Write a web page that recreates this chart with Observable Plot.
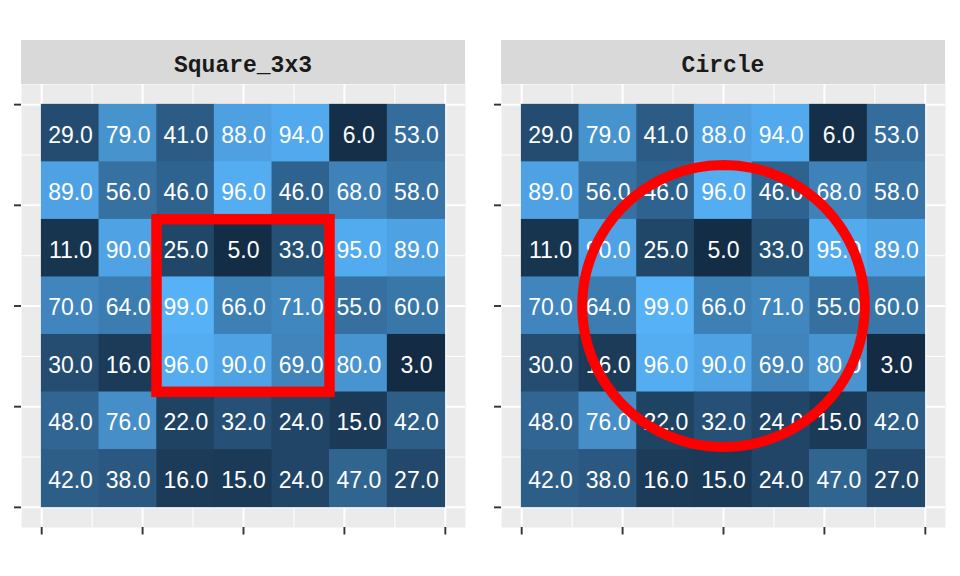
<!DOCTYPE html>
<html><head><meta charset="utf-8">
<script src="https://cdn.jsdelivr.net/npm/d3@7"></script>
<script src="https://cdn.jsdelivr.net/npm/@observablehq/plot@0.6"></script>
<style>
body{margin:0;background:#fff;}
#wrap{display:flex;width:960px;height:576px;overflow:hidden;}
.panel{width:480px;padding-top:40px;}
.strip{box-sizing:border-box;padding-top:7px;margin-left:21px;width:444px;height:44px;background:#D9D9D9;color:#1A1A1A;font:bold 23px "Liberation Mono","DejaVu Sans Mono",monospace;display:flex;align-items:center;justify-content:center;}
svg{display:block}
</style></head><body><div id="wrap"></div>
<script>
const panels = ["Square_3x3", "Circle"];
const gridValues = [
  [29, 79, 41, 88, 94, 6, 53],
  [89, 56, 46, 96, 46, 68, 58],
  [11, 90, 25, 5, 33, 95, 89],
  [70, 64, 99, 66, 71, 55, 60],
  [30, 16, 96, 90, 69, 80, 3],
  [48, 76, 22, 32, 24, 15, 42],
  [42, 38, 16, 15, 24, 47, 27]
];
const majorBreaks = [0, 0.25, 0.5, 0.75, 1];
const minorBreaks = [0.125, 0.375, 0.625, 0.875];
const squareCells = {col0: 2, col1: 5, row0: 2, row1: 5};
const circleShape = {cx: 0.5, cy: 0.5, r: 0.35};

const n = gridValues.length;
const cells = [];
gridValues.forEach((row, r) => row.forEach((v, c) => cells.push({r, c, v})));
const allVals = cells.map(d => d.v);

const circlePts = d3.range(0, 361, 2).map(a => {
  const t = a * Math.PI / 180;
  return {x: circleShape.cx + circleShape.r * Math.cos(t), y: circleShape.cy + circleShape.r * Math.sin(t)};
});

function makePanel(name) {
  const marks = [
    Plot.frame({fill: "#EBEBEB", stroke: "none"}),
    Plot.ruleX(minorBreaks, {stroke: "white", strokeWidth: 1}),
    Plot.ruleY(minorBreaks, {stroke: "white", strokeWidth: 1}),
    Plot.ruleX(majorBreaks, {stroke: "white", strokeWidth: 2}),
    Plot.ruleY(majorBreaks, {stroke: "white", strokeWidth: 2}),
    Plot.rect(cells, {
      x1: d => d.c / n, x2: d => (d.c + 1) / n,
      y1: d => 1 - (d.r + 1) / n, y2: d => 1 - d.r / n,
      fill: "v", inset: -0.3
    }),
    Plot.text(cells, {
      x: d => (d.c + 0.5) / n, y: d => 1 - (d.r + 0.5) / n,
      text: d => d.v.toFixed(1), fill: "white", fontSize: 23, dy: 2,
      fontFamily: "'Liberation Sans', Arial, sans-serif"
    }),
    Plot.axisX({ticks: majorBreaks, tickFormat: () => "", tickSize: 7.5, stroke: "#333333", strokeWidth: 1.9, label: null}),
    Plot.axisY({ticks: majorBreaks, tickFormat: () => "", tickSize: 7, stroke: "#333333", strokeWidth: 1.9, label: null})
  ];
  if (name === "Square_3x3") {
    marks.push(Plot.rect([squareCells], {
      x1: d => d.col0 / n, x2: d => d.col1 / n,
      y1: d => 1 - d.row1 / n, y2: d => 1 - d.row0 / n,
      fill: "none", stroke: "#FF0000", strokeWidth: 10.5
    }));
  } else {
    marks.push(Plot.line(circlePts, {x: "x", y: "y", stroke: "#FF0000", strokeWidth: 10, curve: "linear"}));
  }
  return Plot.plot({
    width: 480, height: 492,
    marginLeft: 21, marginRight: 15, marginTop: 0, marginBottom: 49,
    x: {domain: [-0.05, 1.05]},
    y: {domain: [-0.05, 1.05]},
    color: {type: "linear", domain: [d3.min(allVals), d3.max(allVals)], range: ["#132B43", "#56B1F7"], interpolate: "lab"},
    style: {background: "transparent", overflow: "visible"},
    marks
  });
}

const wrap = document.getElementById("wrap");
for (const name of panels) {
  const p = document.createElement("div");
  p.className = "panel";
  const s = document.createElement("div");
  s.className = "strip";
  s.textContent = name;
  p.appendChild(s);
  p.appendChild(makePanel(name));
  wrap.appendChild(p);
}
</script></body></html>
